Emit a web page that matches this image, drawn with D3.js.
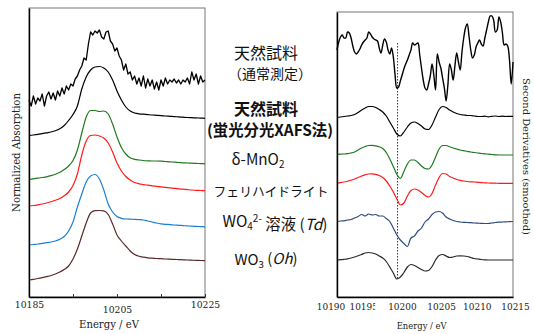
<!DOCTYPE html>
<html>
<head>
<meta charset="utf-8">
<script src="https://cdn.jsdelivr.net/npm/d3@7"></script>
<style>
  body { margin: 0; background: #fff; }
  svg { display: block; }
  .lbl { font-family: "Noto Sans CJK JP", "Noto Sans", sans-serif; fill: #111; }
</style>
</head>
<body>
<svg id="chart" width="534" height="334"></svg>
<script>
// ---- data ----
// left: normalized absorption, stacked, 1 eV grid (noisy scan: 0.5 eV grid)
const leftStart = 10185, leftEnd = 10225;
const leftTicks = [10185, 10195, 10205, 10215, 10225];
const leftTickLabels = [10185, 10205, 10225];

const absNatural = [19.7,19.1,20.1,19.3,19.9,19.6,20.3,19.1,20.1,20.5,
  19.8,20.4,19.7,20.6,20.1,20.9,20.3,21.1,20.7,21.3,
  21.1,21.8,22.1,22.7,23.1,23.9,23.7,25.3,26.5,26.2,
  26.6,26.4,26.7,26.0,25.8,26.5,26.6,25.6,25.3,24.6,
  24.9,24.1,23.7,22.7,23.3,22.3,22.5,21.7,22.1,21.3,
  21.9,21.1,22.1,20.9,21.8,21.1,21.7,20.8,21.5,20.7,
  21.7,21.1,21.9,21.3,21.7,21.5,21.8,21.4,21.7,21.3,
  21.7,21.5,21.9,21.3,22.5,21.7,22.3,21.3,22.1,21.5,
  21.7];
const absNaturalFY = [16.15,16.2,16.26,16.34,16.42,16.5,16.62,16.82,17.15,17.65,
  18.25,19.1,20.8,22.0,22.7,23.0,23.05,22.9,22.5,21.7,
  20.6,19.7,19.0,18.6,18.4,18.32,18.28,18.24,18.2,18.17,
  18.14,18.1,18.07,18.04,18.01,17.98,17.95,17.93,17.91,17.89,
  17.87];
const absMnO2 = [11.77,11.82,11.88,11.95,12.02,12.13,12.28,12.48,12.75,13.1,
  13.65,14.7,16.4,18.0,18.65,18.65,18.55,18.6,18.3,17.3,
  16.0,14.95,14.3,13.92,13.77,13.7,13.65,13.62,13.6,13.6,
  13.58,13.55,13.52,13.48,13.45,13.42,13.4,13.38,13.36,13.34,
  13.32];
const absFerri = [9.1,9.15,9.22,9.3,9.4,9.52,9.67,9.85,10.12,10.5,
  11.15,12.3,14.2,15.6,16.15,16.2,16.1,15.9,15.4,14.5,
  13.4,12.6,12.05,11.7,11.45,11.32,11.24,11.18,11.12,11.07,
  11.02,10.97,10.92,10.87,10.82,10.78,10.74,10.7,10.67,10.65,
  10.63];
const absWO4 = [5.2,5.25,5.3,5.37,5.44,5.5,5.6,5.77,6.05,6.6,
  7.5,9.0,10.3,11.5,12.1,12.25,11.8,10.7,9.3,8.5,
  8.05,7.87,7.8,7.78,7.77,7.74,7.7,7.6,7.5,7.4,
  7.32,7.27,7.24,7.2,7.17,7.14,7.11,7.08,7.06,7.04,
  7.02];
const absWO3 = [1.7,1.77,1.85,1.94,2.04,2.15,2.3,2.5,2.75,3.1,
  3.8,4.8,6.1,7.4,8.4,8.63,8.65,8.62,8.25,7.3,
  6.2,5.6,5.1,4.6,4.25,4.07,3.98,3.92,3.88,3.85,
  3.83,3.8,3.78,3.76,3.74,3.72,3.7,3.68,3.66,3.65,
  3.63];

// right: smoothed second derivatives, stacked, 0.5 eV grid (noisy scan: 0.25 eV grid)
const rightStart = 10190, rightEnd = 10215;
const rightTicks = [10190, 10195, 10200, 10205, 10210, 10215];
const whiteLineEnergy = 10198.6;
const whiteLineSpan = [1.7, 25.4];

const d2Natural = [24.7,25.5,26.0,26.2,25.9,25.9,26.5,26.4,25.9,25.1,
  24.5,24.3,24.5,24.8,25.2,25.5,25.7,25.9,26.5,26.3,
  26.0,25.8,25.7,25.6,24.9,24.4,25.2,25.8,25.5,24.7,
  24.3,24.9,24.0,22.2,20.9,21.0,21.6,22.2,22.8,23.3,
  23.7,24.2,24.7,25.4,25.2,25.3,25.4,24.2,22.9,21.7,
  20.9,20.7,21.3,22.1,23.3,22.2,20.7,24.3,23.5,22.9,
  21.9,20.9,19.6,21.2,23.3,22.7,21.7,23.1,24.4,23.5,
  22.7,24.5,25.9,26.9,27.3,26.1,24.7,23.9,24.2,25.0,
  25.4,25.7,25.3,25.1,25.9,26.7,27.5,28.1,28.1,27.7,
  26.5,26.7,28.0,27.5,26.4,25.2,25.3,25.1,23.7,21.3,
  23.5];
const d2NaturalFY = [17.95,18.0,18.05,18.1,18.15,18.25,18.45,18.7,18.9,19.05,
  19.05,18.95,18.75,18.5,18.1,17.5,16.9,16.3,16.1,16.5,
  17.0,17.4,17.5,17.35,17.1,16.8,16.75,17.2,18.0,18.75,
  19.05,18.95,18.7,18.5,18.35,18.25,18.2,18.15,18.15,18.1,
  18.05,18.05,18.08,18.02,18.07,18.1,18.05,18.08,18.05,18.07,
  18.07];
const d2MnO2 = [14.27,14.28,14.3,14.34,14.4,14.5,14.7,14.9,15.05,15.15,
  15.17,15.12,15.02,14.85,14.45,13.8,13.05,12.25,11.85,12.55,
  13.3,13.7,13.7,13.45,13.1,12.85,12.8,13.2,14.0,14.8,
  15.15,15.15,15.02,14.9,14.8,14.7,14.63,14.57,14.5,14.45,
  14.4,14.35,14.32,14.28,14.25,14.22,14.2,14.2,14.2,14.2,
  14.2];
const d2Ferri = [11.4,11.44,11.5,11.58,11.67,11.8,11.95,12.1,12.22,12.3,
  12.32,12.27,12.15,11.95,11.6,11.1,10.5,9.8,9.2,9.4,
  10.1,10.65,10.8,10.7,10.45,10.15,10.0,10.35,11.2,11.95,
  12.35,12.3,12.05,11.9,11.75,11.67,11.6,11.55,11.52,11.5,
  11.47,11.44,11.42,11.4,11.39,11.38,11.37,11.37,11.37,11.37,
  11.37];
const d2WO4 = [7.55,7.6,7.62,7.7,7.75,7.9,8.05,8.25,8.1,8.3,
  8.2,8.25,8.1,8.1,7.85,7.55,6.9,6.2,5.7,5.35,
  5.05,5.9,6.1,6.6,6.9,7.5,7.8,8.25,8.5,8.55,
  8.4,8.0,7.8,7.65,7.55,7.5,7.47,7.45,7.43,7.4,
  7.38,7.36,7.35,7.35,7.4,7.45,7.48,7.5,7.52,7.54,
  7.55];
const d2WO3 = [3.7,3.73,3.77,3.82,3.9,4.0,4.12,4.25,4.4,4.45,
  4.4,4.3,4.1,3.9,3.55,3.0,2.4,1.8,2.0,2.45,
  3.0,3.25,3.15,2.95,2.75,2.6,2.65,3.05,3.7,4.15,
  4.25,4.1,3.95,4.0,4.1,4.12,4.1,4.05,3.95,3.85,
  3.8,3.75,3.72,3.7,3.7,3.7,3.7,3.7,3.7,3.7,
  3.7];

const sampleColors = ['#000', '#000', '#1f7a1f', '#ff1a1a', '#1a7fd0', '#5b2a2a'];
const d2Colors = ['#000', '#000', '#1f7a1f', '#ff1a1a', '#2f4c7c', '#2a2a2a'];

// ---- layout ----
const SERIF = '"DejaVu Serif", "Liberation Serif", serif';
const svg = d3.select('#chart');
const L = {x0: 29, x1: 205, y0: 8, y1: 297};
const R = {x0: 337, x1: 513, y0: 12, y1: 297};

const xL = d3.scaleLinear().domain([leftStart, leftEnd]).range([L.x0, L.x1]);
const yL = d3.scaleLinear().domain([0, 28.9]).range([L.y1, L.y0]);
const xR = d3.scaleLinear().domain([rightStart, rightEnd]).range([R.x0, R.x1]);
const yR = d3.scaleLinear().domain([0, 28.5]).range([R.y1, R.y0]);

function drawSeries(g, x, y, start, values, step, color, curve, width) {
    const line = d3.line()
        .x((d, i) => x(start + i * step))
        .y(d => y(d))
        .curve(curve);
    g.append('path')
        .datum(values)
        .attr('d', line)
        .attr('fill', 'none')
        .attr('stroke', color)
        .attr('stroke-width', width)
        .attr('stroke-linejoin', 'round');
}

// set a font size so that the text gets the width it has in the reference
function fitWidth(sel, size, target) {
    sel.style('font-size', size + 'px');
    const w = sel.node().getComputedTextLength();
    const s = w > 0 ? size * target / w : size;
    sel.style('font-size', s + 'px');
    return s;
}

function serifText(sel, size) {
    return sel.style('font-family', SERIF).style('font-size', size + 'px').attr('fill', '#222');
}

// frames (top/right grey, left/bottom black through the axes)
[L, R].forEach(p => {
    svg.append('rect')
        .attr('x', p.x0).attr('y', p.y0)
        .attr('width', p.x1 - p.x0).attr('height', p.y1 - p.y0)
        .attr('fill', 'none').attr('stroke', '#777').attr('stroke-width', 1);
});

// left panel
const gL = svg.append('g');
const leftSeries = [absNatural, absNaturalFY, absMnO2, absFerri, absWO4, absWO3];
leftSeries.forEach((vals, k) => {
    const step = k === 0 ? 0.5 : 1;
    drawSeries(gL, xL, yL, leftStart, vals, step, sampleColors[k],
        k === 0 ? d3.curveLinear : d3.curveMonotoneX, k === 0 ? 1.3 : 1.2);
});

const axL = svg.append('g')
    .attr('transform', `translate(0,${L.y1})`)
    .call(d3.axisBottom(xL).tickValues(leftTicks).tickSizeInner(-3).tickSizeOuter(0)
        .tickFormat(d => leftTickLabels.includes(d) ? String(d) : ''));
axL.select('.domain').attr('stroke', '#000').attr('stroke-width', 1.4);
axL.selectAll('.tick line').attr('stroke', '#333');
const tickTextL = serifText(axL.selectAll('.tick text'), 10)
    .attr('dy', 0)
    .attr('y', d => d === 10205 ? 15.7 : 11.3);
const sL = fitWidth(tickTextL.filter(d => d === 10185), 10, 29.5);
tickTextL.style('font-size', sL + 'px');

svg.append('g').attr('transform', `translate(${L.x0},0)`)
    .call(d3.axisLeft(yL).tickValues([]).tickSizeOuter(0))
    .select('.domain').attr('stroke', '#000').attr('stroke-width', 1.4);

fitWidth(serifText(svg.append('text'), 10)
    .attr('x', 109).attr('y', 328)
    .attr('text-anchor', 'middle')
    .text('Energy / eV'), 10, 60);
fitWidth(serifText(svg.append('text'), 10)
    .attr('transform', 'translate(20.4,152.5) rotate(-90)')
    .attr('text-anchor', 'middle')
    .text('Normalized Absorption'), 10, 119);

// right panel
const gR = svg.append('g');
gR.append('line')
    .attr('x1', xR(whiteLineEnergy)).attr('x2', xR(whiteLineEnergy))
    .attr('y1', yR(whiteLineSpan[1])).attr('y2', yR(whiteLineSpan[0]))
    .attr('stroke', '#333').attr('stroke-width', 1).attr('stroke-dasharray', '1.5,1.5');

const rightSeries = [d2Natural, d2NaturalFY, d2MnO2, d2Ferri, d2WO4, d2WO3];
rightSeries.forEach((vals, k) => {
    const step = k === 0 ? 0.25 : 0.5;
    drawSeries(gR, xR, yR, rightStart, vals, step, d2Colors[k],
        k === 0 ? d3.curveCatmullRom.alpha(0.5) : d3.curveMonotoneX, k === 0 ? 1.4 : 1.2);
});

const labelShift = [-6.5, -9, -5.5, -1.5, -1, 2];
const axR = svg.append('g')
    .attr('transform', `translate(0,${R.y1})`)
    .call(d3.axisBottom(xR).tickValues(rightTicks).tickSizeInner(0).tickSizeOuter(0)
        .tickFormat(d => String(d)));
axR.select('.domain').attr('stroke', '#000').attr('stroke-width', 1.4);
const tickTextR = serifText(axR.selectAll('.tick text'), 9.2)
    .attr('dy', 0).attr('y', 13)
    .attr('dx', (d, i) => labelShift[i]);
const sR = fitWidth(tickTextR.filter(d => d === 10190), 9.2, 28.5);
tickTextR.style('font-size', sR + 'px');

// the 10195 label is cut off by the 10200 label in the original
axR.append('clipPath').attr('id', 'clip195')
    .append('rect').attr('x', -40).attr('y', 0).attr('width', 42.5).attr('height', 30);
axR.selectAll('.tick').filter(d => d === 10195).select('text').attr('clip-path', 'url(#clip195)');

svg.append('g').attr('transform', `translate(${R.x0},0)`)
    .call(d3.axisLeft(yR).tickValues([]).tickSizeOuter(0))
    .select('.domain').attr('stroke', '#000').attr('stroke-width', 1.4);

fitWidth(serifText(svg.append('text'), 9)
    .attr('x', 421.7).attr('y', 328.5)
    .attr('text-anchor', 'middle')
    .text('Energy / eV'), 9, 50);
fitWidth(serifText(svg.append('text'), 10)
    .attr('transform', 'translate(522.8,156.5) rotate(90)')
    .attr('text-anchor', 'middle')
    .text('Second Derivatives (smoothed)'), 10, 157);

// sample names between the panels
const labels = [
    {x: 266, y: 58.5, w: 64, parts: [['天然試料']]},
    {x: 270, y: 79, w: 84, parts: [['（通常測定）']]},
    {x: 266, y: 114.5, w: 64, bold: true, parts: [['天然試料']]},
    {x: 270, y: 135.5, w: 126, bold: true, parts: [['(蛍光分光XAFS法)']]},
    {x: 258, y: 165, w: 53, parts: [['δ-MnO'], ['2', 'sub']]},
    {x: 271, y: 196, w: 115, parts: [['フェリハイドライト']]},
    {x: 275, y: 227, w: 105, parts: [['WO'], ['4', 'sub'], ['2-', 'sup'], [' 溶液 ('], ['Td', 'it'], [')']]},
    {x: 266, y: 265, w: 63, parts: [['WO'], ['3', 'sub'], [' ('], ['Oh', 'it'], [')']]}
];
labels.forEach(l => {
    const t = svg.append('text').attr('class', 'lbl')
        .attr('x', l.x).attr('y', l.y)
        .attr('text-anchor', 'middle')
        .attr('font-weight', l.bold ? 700 : 400);
    let shift = 0;
    l.parts.forEach(([s, kind]) => {
        const ts = t.append('tspan').text(s);
        let target = 0;
        if (kind === 'sub') { ts.attr('font-size', '0.65em'); target = 0.27; }
        if (kind === 'sup') { ts.attr('font-size', '0.65em'); target = -0.47; }
        if (kind === 'it') ts.attr('font-style', 'italic');
        if (target !== shift) { ts.attr('dy', (target - shift) + 'em'); shift = target; }
    });
    fitWidth(t, 14, l.w);
});
</script>
</body>
</html>
